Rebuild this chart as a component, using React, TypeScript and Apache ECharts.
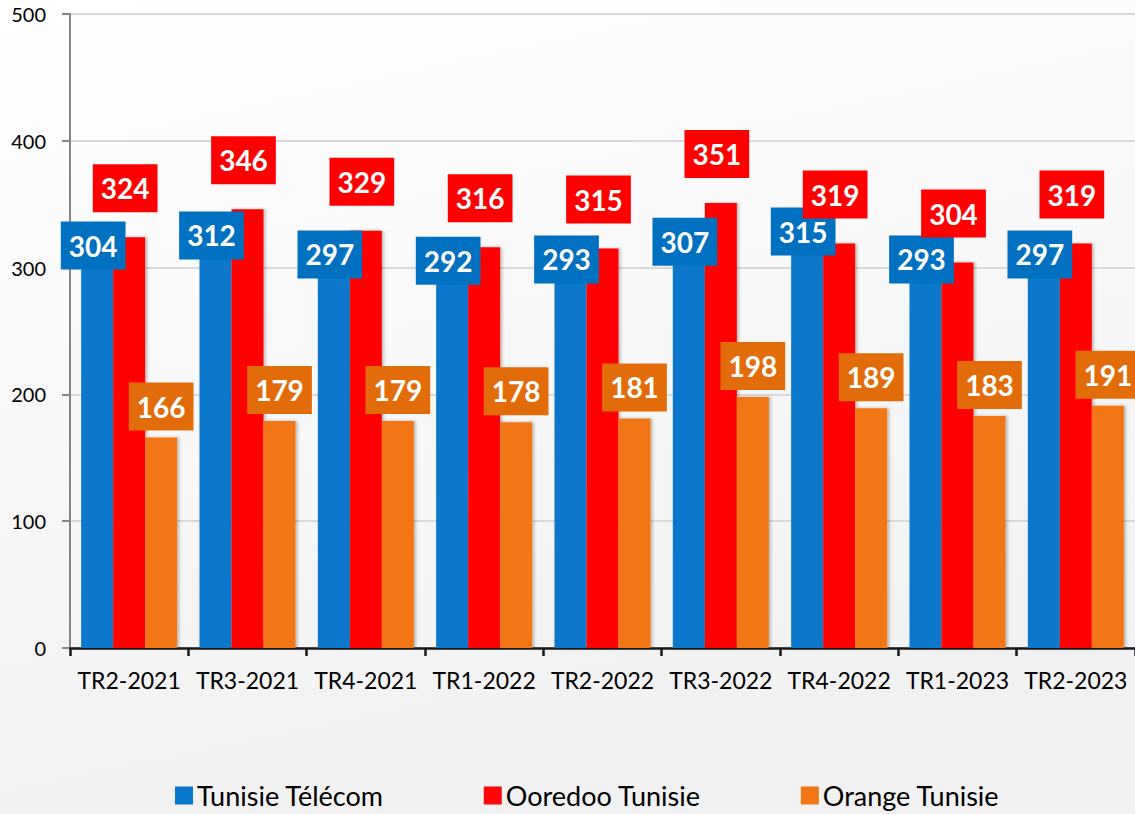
import React, { useEffect, useRef } from "react";
import * as echarts from "echarts";

const categories = [
  "TR2-2021",
  "TR3-2021",
  "TR4-2021",
  "TR1-2022",
  "TR2-2022",
  "TR3-2022",
  "TR4-2022",
  "TR1-2023",
  "TR2-2023",
];
const tunisieTelecom = [304, 312, 297, 292, 293, 307, 315, 293, 297];
const ooredooTunisie = [324, 346, 329, 316, 315, 351, 319, 304, 319];
const orangeTunisie = [166, 179, 179, 178, 181, 198, 189, 183, 191];
const seriesNames = ["Tunisie Télécom", "Ooredoo Tunisie", "Orange Tunisie"];

const FONT = "Lato, 'Open Sans', sans-serif";

function makeLabel(bg: string, distance: number, dx: number) {
  return {
    show: true,
    position: "top",
    distance,
    offset: [dx, 0],
    color: "#ffffff",
    fontFamily: FONT,
    fontWeight: "bold",
    fontSize: 28,
    lineHeight: 28,
    backgroundColor: bg,
    padding: [10, 8, 10, 8],
  };
}

const shadow = {
  shadowBlur: 3,
  shadowColor: "rgba(0,0,0,0.25)",
  shadowOffsetX: 2,
  shadowOffsetY: 0,
};

export default function App() {
  const ref = useRef<HTMLDivElement>(null);
  useEffect(() => {
    if (!ref.current) return;
    const chart = echarts.init(ref.current, undefined, { renderer: "svg" });
    chart.setOption({
      animation: false,
      backgroundColor: {
        type: "linear",
        x: 0,
        y: 0,
        x2: 0.3,
        y2: 1,
        colorStops: [
          { offset: 0, color: "#ffffff" },
          { offset: 1, color: "#f1f1f1" },
        ],
      },
      textStyle: { fontFamily: FONT },
      grid: { left: 70, right: -3, top: 14, bottom: 166, containLabel: false },
      legend: {
        left: 175,
        top: 782,
        padding: 0,
        itemGap: 100,
        itemWidth: 18,
        itemHeight: 18,
        icon: "rect",
        textStyle: { fontSize: 27, color: "#000", fontFamily: FONT, padding: [0, 0, 0, -1] },
        data: seriesNames,
      },
      xAxis: {
        type: "category",
        data: categories,
        axisLine: { show: true, lineStyle: { color: "#1a1a1a", width: 2.5 } },
        axisTick: { show: true, length: 8, lineStyle: { color: "#1a1a1a", width: 2.5 } },
        axisLabel: { interval: 0, fontSize: 23, color: "#000", margin: 20, fontFamily: FONT },
        splitLine: { show: false },
      },
      yAxis: {
        type: "value",
        min: 0,
        max: 500,
        interval: 100,
        axisLine: { show: true, lineStyle: { color: "#868686", width: 2 } },
        axisTick: { show: true, length: 8, lineStyle: { color: "#868686", width: 2 } },
        axisLabel: { fontSize: 20, color: "#000", margin: 24, fontFamily: FONT },
        splitLine: { show: true, lineStyle: { color: "#d9d9d9", width: 2 } },
      },
      series: [
        {
          name: seriesNames[0],
          type: "bar",
          data: tunisieTelecom,
          barWidth: 32,
          barGap: "0%",
          itemStyle: { color: "#0878CB", ...shadow },
          label: makeLabel("#0070C0", -7, -4),
        },
        {
          name: seriesNames[1],
          type: "bar",
          data: ooredooTunisie,
          barWidth: 32,
          barGap: "0%",
          itemStyle: { color: "#FF0505", ...shadow },
          label: makeLabel("#FF0000", 25, -4),
        },
        {
          name: seriesNames[2],
          type: "bar",
          data: orangeTunisie,
          barWidth: 32,
          barGap: "0%",
          itemStyle: { color: "#F27613", ...shadow },
          label: makeLabel("#E36C0A", 7, 0),
        },
      ],
    });
    return () => chart.dispose();
  }, []);
  return (
    <div
      ref={ref}
      style={{ position: "absolute", left: 0, top: 0, width: 1135, height: 814 }}
    />
  );
}
